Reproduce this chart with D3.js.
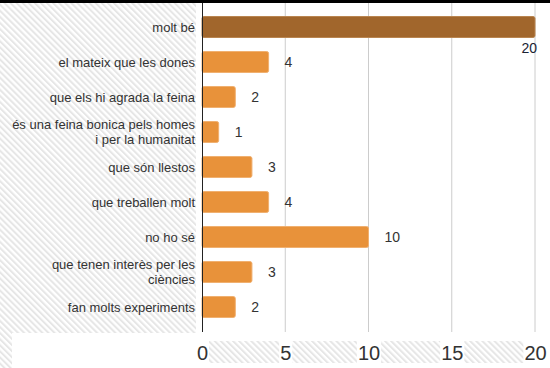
<!DOCTYPE html>
<html>
<head>
<meta charset="utf-8">
<script src="https://cdn.jsdelivr.net/npm/d3@7"></script>
<style>
  html, body { margin: 0; padding: 0; background: #fff; }
  svg { display: block; font-family: "Liberation Sans", Arial, sans-serif; }
</style>
</head>
<body>
<svg id="chart" width="550" height="368"></svg>
<script>
// Answers and how many times each was given
const categories = [
  "molt bé",
  "el mateix que les dones",
  "que els hi agrada la feina",
  "és una feina bonica pels homes\ni per la humanitat",
  "que són llestos",
  "que treballen molt",
  "no ho sé",
  "que tenen interès per les\nciències",
  "fan molts experiments"
];
const counts = [20, 4, 2, 1, 3, 4, 10, 3, 2];
const xTicks = [0, 5, 10, 15, 20];

const W = 550, H = 368;
const svg = d3.select("#chart");

// diagonal hatching used for the frame around the plot
const defs = svg.append("defs");
const pat = defs.append("pattern")
  .attr("id", "hatch")
  .attr("patternUnits", "userSpaceOnUse")
  .attr("width", 4.3).attr("height", 4.3)
  .attr("patternTransform", "rotate(-45)");
pat.append("rect").attr("width", 4.3).attr("height", 4.3).attr("fill", "#fff");
pat.append("line")
  .attr("x1", 1).attr("y1", 0).attr("x2", 1).attr("y2", 4.3)
  .attr("stroke", "#e6e6e6").attr("stroke-width", 2);

svg.append("rect").attr("width", W).attr("height", H).attr("fill", "#fff");
// label column and bottom strips
svg.append("rect").attr("x", 0).attr("y", 3).attr("width", 196).attr("height", 330).attr("fill", "url(#hatch)");
svg.append("rect").attr("x", 0).attr("y", 333).attr("width", 12).attr("height", 35).attr("fill", "url(#hatch)");
svg.append("rect").attr("x", 198).attr("y", 341).attr("width", 334).attr("height", 22).attr("fill", "url(#hatch)");
// top rule
svg.append("rect").attr("x", 0).attr("y", 0).attr("width", W).attr("height", 3).attr("fill", "#000");

const x = d3.scaleLinear().domain([0, 20]).range([202, 535]);
const y = d3.scaleBand().domain(categories).range([9.5, 324.5]).paddingInner(0.4).paddingOuter(0.2);

// vertical grid
svg.append("g").selectAll("line").data(xTicks.slice(1)).join("line")
  .attr("x1", d => x(d)).attr("x2", d => x(d))
  .attr("y1", 3).attr("y2", 332)
  .attr("stroke", "#cccccc").attr("stroke-width", 1);

// bars
svg.append("g").selectAll("rect").data(categories).join("rect")
  .attr("x", x(0))
  .attr("y", d => y(d))
  .attr("width", (d, i) => x(counts[i]) - x(0))
  .attr("height", y.bandwidth())
  .attr("rx", 2)
  .attr("fill", (d, i) => i === 0 ? "#a1662c" : "#e8923a")
  .attr("stroke", (d, i) => i === 0 ? "#b98550" : "#f0b070")
  .attr("stroke-width", 1);

// y axis line
svg.append("line")
  .attr("x1", 202.5).attr("x2", 202.5).attr("y1", 3).attr("y2", 332)
  .attr("stroke", "#222").attr("stroke-width", 1);

// category labels (may span two lines)
const catG = svg.append("g").attr("fill", "#333").attr("font-size", 13).attr("text-anchor", "end");
categories.forEach(c => {
  const lines = c.split("\n");
  const cy = y(c) + y.bandwidth() / 2;
  const lh = 15;
  const t = catG.append("text").attr("x", 195);
  lines.forEach((ln, k) => {
    t.append("tspan")
      .attr("x", 195)
      .attr("y", cy + (k - (lines.length - 1) / 2) * lh)
      .attr("dy", "0.35em")
      .text(ln);
  });
});

// value labels
const valG = svg.append("g").attr("fill", "#333").attr("font-size", 14);
categories.forEach((c, i) => {
  const v = counts[i];
  if (i === 0) {
    valG.append("text")
      .attr("x", x(v) + 2).attr("y", y(c) + y.bandwidth() + 11)
      .attr("dy", "0.35em").attr("text-anchor", "end")
      .attr("fill", "#1a2233")
      .text(v);
  } else {
    valG.append("text")
      .attr("x", x(v) + 16).attr("y", y(c) + y.bandwidth() / 2)
      .attr("dy", "0.35em")
      .text(v);
  }
});

// x axis tick labels on white chips over the hatching
const axisG = svg.append("g")
  .attr("transform", "translate(0,353)")
  .call(d3.axisBottom(x).tickValues(xTicks).tickSize(0).tickPadding(0));
axisG.select(".domain").remove();
axisG.selectAll("text")
  .attr("y", 0).attr("dy", "0.35em")
  .attr("font-size", 20)
  .attr("font-family", "'Liberation Sans', Arial, sans-serif")
  .attr("fill", "#333");
axisG.selectAll(".tick").each(function() {
  const tick = d3.select(this);
  const bb = tick.select("text").node().getBBox();
  tick.insert("rect", "text")
    .attr("x", bb.x - 1).attr("y", -12)
    .attr("width", bb.width + 2).attr("height", 24)
    .attr("fill", "#fff");
});
</script>
</body>
</html>
